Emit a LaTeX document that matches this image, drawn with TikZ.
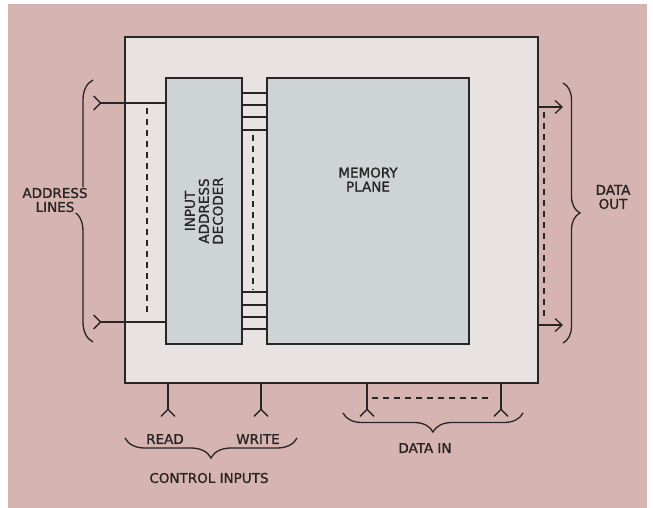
\documentclass[tikz,border=0pt]{standalone}
\usepackage{fontspec}
\setmainfont{DejaVu Sans}
\newfontfamily\lblfont[FakeBold=1.2]{DejaVu Sans}
\usetikzlibrary{arrows.meta, positioning, calc, decorations.pathreplacing}
\definecolor{pagepink}{RGB}{214,180,178}
\definecolor{chipgray}{RGB}{232,226,226}
\definecolor{blockgray}{RGB}{206,211,213}
\definecolor{inkgray}{RGB}{40,37,37}

\begin{document}
\begin{tikzpicture}[x=1pt, y=-1pt,
			lbl/.style={font=\lblfont\fontsize{13.5}{14}\selectfont, align=center, inner sep=1pt, text=inkgray},
			block/.style={draw=inkgray, fill=blockgray, line width=1.4pt, inner sep=0pt},
			wire/.style={draw=inkgray, line width=1.3pt},
			dashwire/.style={wire, dash pattern=on 6pt off 5pt},
			inarr/.style={wire, {Straight Barb[reversed, length=7pt, width=14pt]}-},
			outarr/.style={wire, -{Straight Barb[length=7pt, width=13pt]}},
			brc/.style={wire, decorate, decoration={brace, amplitude=#1}}]
			\useasboundingbox (0,0) rectangle (653,508);
			\fill[white] (0,0) rectangle (653,508);
			\fill[pagepink] (8,4) rectangle (647,508);
			% chip outline and blocks
			\node[draw=inkgray, fill=chipgray, line width=1.5pt, minimum width=413pt, minimum height=346pt] (chip) at (331.5,210) {};
			\node[block, minimum width=76pt, minimum height=266pt] (dec) at (204,211) {};
			\node[lbl, rotate=90] (dectext) at (dec.center) {INPUT\\ADDRESS\\DECODER};
			\node[block, minimum width=202pt, minimum height=266pt] (mem) at (368,211) {};
			\node[lbl, below=89pt of mem.north] (memtext) {MEMORY\\PLANE};
			% decoder to memory plane
			\foreach \y in {93,105,117,130,292,305,317,329}
				\draw[wire] (dec.east |- 0,\y) -- (mem.west |- 0,\y);
			\draw[dashwire] (253,135) -- (253,290);
			% address lines
			\coordinate (a1) at (93,103);
			\coordinate (a2) at (93,322);
			\draw[inarr] (a1) -- (a1 -| dec.west);
			\draw[inarr] (a2) -- (a2 -| dec.west);
			\draw[dashwire] (147,108) -- (147,313);
			\draw[brc=20pt] (93,342) -- (93,80);
			\node[lbl, fill=pagepink] (addr) at (55,200) {ADDRESS\\LINES};
			% data out
			\coordinate (o1) at (563,107);
			\coordinate (o2) at (563,325);
			\draw[outarr] (o1 -| chip.east) -- (o1);
			\draw[outarr] (o2 -| chip.east) -- (o2);
			\draw[dashwire] (544,112) -- (544,318);
			\draw[brc=17pt] (563,83) -- (563,343);
			\node[lbl] (dout) at (613,197) {DATA\\OUT};
			% control and data inputs
			\coordinate (rd) at (168,417);
			\coordinate (wr) at (261,417);
			\coordinate (d1) at (367,417);
			\coordinate (d2) at (501,417);
			\foreach \c in {rd,wr,d1,d2}
				\draw[inarr] (\c) -- (\c |- chip.south);
			\draw[dashwire] (372,398) -- (493,398);
			\node[lbl] (read) at (165,439) {READ};
			\node[lbl] (write) at (258,439) {WRITE};
			\draw[brc=20pt] (297,438) -- (125,438);
			\node[lbl] (ctrl) at (209,478) {CONTROL INPUTS};
			\draw[brc=19pt] (523,413) -- (343,413);
			\node[lbl] (din) at (425,448) {DATA IN};
		\end{tikzpicture}
\end{document}
